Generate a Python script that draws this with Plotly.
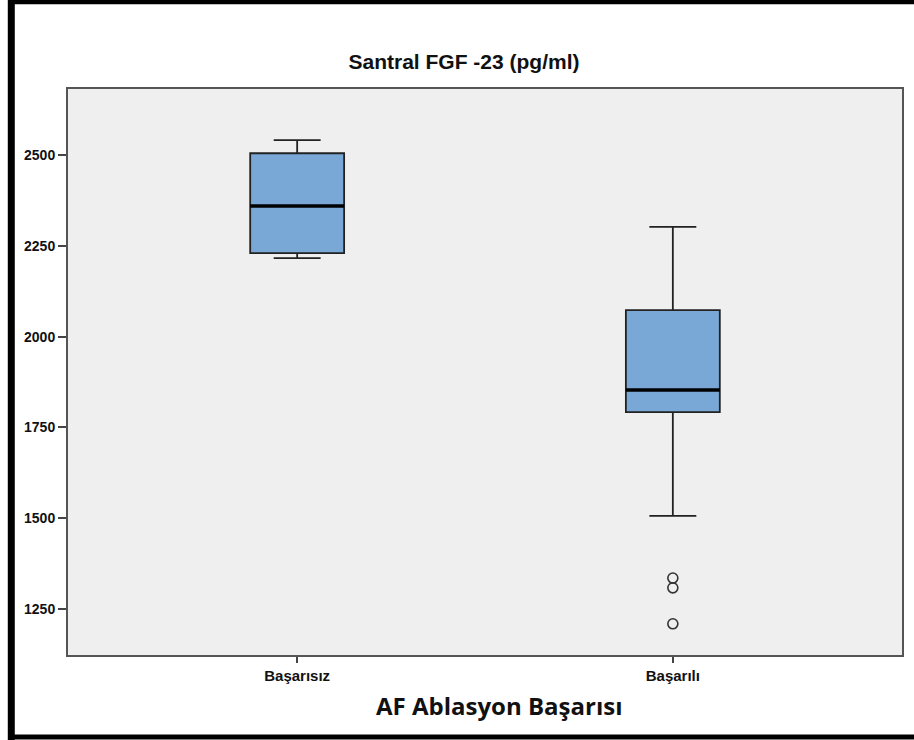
import plotly.graph_objects as go

categories = ["Başarısız", "Başarılı"]
q1 = [2230, 1792]
median = [2360, 1853]
q3 = [2505, 2073]
lower_fence = [2216, 1506]
upper_fence = [2541, 2302]
outliers_x = [1, 1, 1]
outliers_y = [1335, 1308, 1209]
y_ticks = [1250, 1500, 1750, 2000, 2250, 2500]

box_w = 0.25
fill = "#7aa8d6"
pos = list(range(len(categories)))

fig = go.Figure()
fig.add_trace(go.Box(
    x=pos, q1=q1, median=median, q3=q3,
    lowerfence=lower_fence, upperfence=upper_fence,
    width=box_w, whiskerwidth=0.5,
    fillcolor=fill, line=dict(color="#222222", width=1.8),
    boxpoints=False, showlegend=False, hoverinfo="skip",
))
# thicker median lines
for i, m in zip(pos, median):
    fig.add_trace(go.Scatter(
        x=[i - box_w / 2, i + box_w / 2], y=[m, m], mode="lines",
        line=dict(color="black", width=3.5), showlegend=False, hoverinfo="skip",
    ))
fig.add_trace(go.Scatter(
    x=outliers_x, y=outliers_y, mode="markers",
    marker=dict(symbol="circle-open", size=10, color="#333333", line=dict(width=1.6)),
    showlegend=False, hoverinfo="skip",
))

fig.update_layout(
    width=914, height=740,
    margin=dict(l=68, r=10, t=89, b=85),
    paper_bgcolor="white", plot_bgcolor="#efefef",
    title=dict(text="<b>Santral FGF -23 (pg/ml)</b>", x=464 / 914, xanchor="center",
               y=1 - 62 / 740, yanchor="middle",
               font=dict(family="Liberation Sans, Arial", size=21, color="#111111")),
    xaxis=dict(range=[-0.61, 1.61], tickvals=pos, ticktext=[f"<b>{c}</b>" for c in categories],
               showgrid=False, zeroline=False, showline=True, linecolor="#555555", linewidth=2,
               mirror=True, ticks="outside", ticklen=6, tickcolor="#444444", tickwidth=2,
               tickfont=dict(family="Liberation Sans, Arial", size=15, color="#111111")),
    yaxis=dict(range=[1123, 2682], tickvals=y_ticks, ticktext=[f"<b>{v}</b>" for v in y_ticks],
               showgrid=False, zeroline=False, showline=True, linecolor="#555555", linewidth=2,
               mirror=True, ticks="outside", ticklen=8, tickcolor="#444444", tickwidth=2,
               tickfont=dict(family="Liberation Sans, Arial", size=14, color="#111111")),
    annotations=[dict(text="<b>AF Ablasyon Başarısı</b>", xref="paper", yref="paper",
                      x=(501 - 68) / 836, y=(655 - 705) / 566, xanchor="center", yanchor="middle",
                      showarrow=False,
                      font=dict(family="Open Sans, Liberation Sans", size=24, color="#111111"))],
    shapes=[
        dict(type="line", xref="paper", yref="paper", x0=-0.068, x1=-0.068, y0=-0.15, y1=1.16,
             line=dict(color="black", width=7)),
        dict(type="line", xref="paper", yref="paper", x0=-0.07, x1=1.02, y0=1.154, y1=1.154,
             line=dict(color="black", width=5)),
        dict(type="line", xref="paper", yref="paper", x0=-0.07, x1=1.02, y0=-0.145, y1=-0.145,
             line=dict(color="black", width=5)),
    ],
)

fig.write_html("out.html", config={"displayModeBar": False},
               post_script="document.body.style.margin='0';document.body.style.overflow='hidden';")
